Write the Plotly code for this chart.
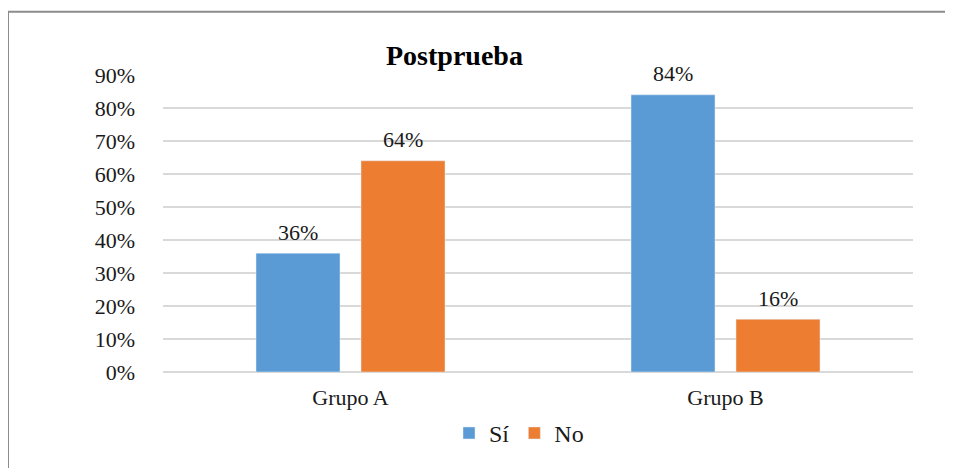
import plotly.graph_objects as go

categories = ["Grupo A", "Grupo B"]
si_values = [0.36, 0.84]
no_values = [0.64, 0.16]
si_labels = ["36%", "84%"]
no_labels = ["64%", "16%"]
y_ticks = [0, 0.1, 0.2, 0.3, 0.4, 0.5, 0.6, 0.7, 0.8, 0.9]
y_tick_labels = ["0%", "10%", "20%", "30%", "40%", "50%", "60%", "70%", "80%", "90%"]

OFF = 8  # browser body margin
W, H = 953 - OFF, 468 - OFF
L, T = 163 - OFF, 75 - OFF
R = W - (913 - OFF)
B = H - (375 - OFF)
pw, ph = W - L - R, H - T - B

def px(x):
    return (x - OFF - L) / pw

def py(y):
    return (H - B - (y - OFF)) / ph

FAM = "Liberation Serif"
TXT = "#1a1a1a"
SI_COLOR, NO_COLOR = "#5B9BD5", "#ED7D31"

fig = go.Figure()
fig.add_trace(go.Bar(name="Sí", x=categories, y=si_values, marker_color=SI_COLOR))
fig.add_trace(go.Bar(name="No", x=categories, y=no_values, marker_color=NO_COLOR))

annotations = []
for cat, v, lab in zip(categories, si_values, si_labels):
    annotations.append(dict(x=cat, y=v, text=lab, showarrow=False, xshift=-52.5, yshift=21,
                            yanchor="middle", font=dict(family=FAM, size=22, color=TXT)))
for cat, v, lab in zip(categories, no_values, no_labels):
    annotations.append(dict(x=cat, y=v, text=lab, showarrow=False, xshift=52.5, yshift=21,
                            yanchor="middle", font=dict(family=FAM, size=22, color=TXT)))
annotations.append(dict(text="<b>Postprueba</b>", x=px(454), y=py(55), xref="paper", yref="paper",
                        showarrow=False, font=dict(family=FAM, size=28, color="black"),
                        xanchor="center", yanchor="middle"))

fig.update_layout(
    width=W, height=H,
    margin=dict(l=L, r=R, t=T, b=B),
    paper_bgcolor="white", plot_bgcolor="white",
    barmode="group", bargap=0.44, bargroupgap=0.2,
    font=dict(family=FAM, size=22, color=TXT),
    showlegend=True,
    legend=dict(orientation="h", x=px(519), y=py(437), xanchor="center", yanchor="middle",
                font=dict(family=FAM, size=24, color=TXT), itemwidth=30, traceorder="normal"),
    annotations=annotations,
    shapes=[dict(type="path", xref="paper", yref="paper",
                 path=f"M {px(8)},{py(480)} L {px(8)},{py(11)} L {px(970)},{py(11)}",
                 line=dict(color="#8C8C8C", width=2))],
)
fig.update_xaxes(showgrid=False, showline=False, ticks="",
                 tickfont=dict(family=FAM, size=22, color=TXT), ticklabelstandoff=10)
fig.update_yaxes(range=[0, 0.9], tickvals=y_ticks, ticktext=y_tick_labels,
                 showgrid=True, gridcolor="#D9D9D9", gridwidth=1.5,
                 zeroline=True, zerolinecolor="#D9D9D9", zerolinewidth=1.5,
                 tickfont=dict(family=FAM, size=22, color=TXT), ticks="",
                 ticklabelstandoff=27, showline=False)

fig.write_html("out.html")
